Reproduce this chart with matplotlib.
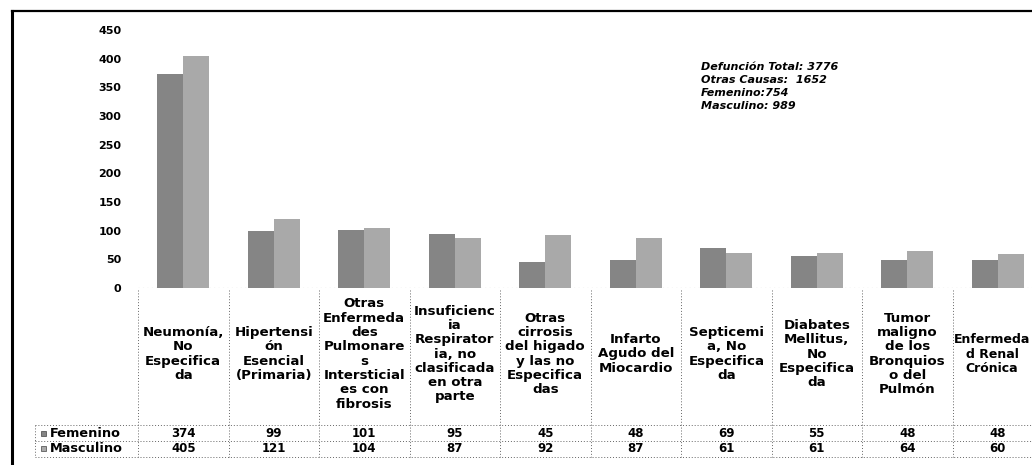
import matplotlib
matplotlib.use("Agg")
import matplotlib.pyplot as plt
import matplotlib.transforms as mtransforms
from matplotlib.lines import Line2D
from matplotlib.patches import Rectangle
import numpy as np

categories = [
    "Neumonía,\nNo\nEspecifica\nda",
    "Hipertensi\nón\nEsencial\n(Primaria)",
    "Otras\nEnfermeda\ndes\nPulmonare\ns\nIntersticial\nes con\nfibrosis",
    "Insuficienc\nia\nRespirator\nia, no\nclasificada\nen otra\nparte",
    "Otras\ncirrosis\ndel higado\ny las no\nEspecifica\ndas",
    "Infarto\nAgudo del\nMiocardio",
    "Septicemi\na, No\nEspecifica\nda",
    "Diabates\nMellitus,\nNo\nEspecifica\nda",
    "Tumor\nmaligno\nde los\nBronquios\no del\nPulmón",
    "Enfermeda\nd Renal\nCrónica",
]
femenino = [374, 99, 101, 95, 45, 48, 69, 55, 48, 48]
masculino = [405, 121, 104, 87, 92, 87, 61, 61, 64, 60]
series_names = ["Femenino", "Masculino"]
yticks = [0, 50, 100, 150, 200, 250, 300, 350, 400, 450]
note_lines = ["Defunción Total: 3776", "Otras Causas:  1652",
              "Femenino:754", "Masculino: 989"]

W, H = 1032, 465
def fx(px): return px / W
def fy(py): return 1 - py / H

plt.rcParams['font.family'] = ['DejaVu Sans']
fig = plt.figure(figsize=(W / 100, H / 100), dpi=100)
fig.patch.set_facecolor('white')

col_left, col_w = 138, 90.5
n = len(categories)
ax_left = fx(col_left)
ax_w = (col_w * n) / W
ax_bottom = fy(288)
ax_top = fy(30)
ax = fig.add_axes([ax_left, ax_bottom, ax_w, ax_top - ax_bottom])

c_fem = '#858585'
c_mas = '#a9a9a9'
x = np.arange(n)
bw = 0.29
ax.bar(x - bw / 2, femenino, bw, color=c_fem, edgecolor='none', zorder=2)
ax.bar(x + bw / 2, masculino, bw, color=c_mas, edgecolor='none', zorder=2)
ax.set_xlim(-0.5, n - 0.5)
ax.set_ylim(0, 450)
ax.set_yticks(yticks)
ax.set_yticklabels([str(v) for v in yticks], fontsize=8, fontweight='bold')
ax.tick_params(axis='y', length=0, pad=12)
ax.set_xticks([])
for s in ax.spines.values():
    s.set_visible(False)
ax.axhline(0, color='#777777', lw=0.8, ls=(0, (1, 3)), zorder=1)

tr = mtransforms.blended_transform_factory(ax.transData, fig.transFigure)

# category labels
for i, lab in enumerate(categories):
    if i == n - 1:
        # last column is partly outside the figure: keep its label inside
        fig.text(fx(992), fy(354), lab, ha='center', va='center',
                 fontsize=9.0, fontweight='bold', linespacing=1.13)
    else:
        ax.text(i, fy(354), lab, transform=tr, ha='center', va='center',
                fontsize=9.6, fontweight='bold', linespacing=1.13, clip_on=False)

# values
for i in range(n):
    ax.text(i, fy(433), str(femenino[i]), transform=tr, ha='center', va='center',
            fontsize=8.5, fontweight='bold')
    ax.text(i, fy(448), str(masculino[i]), transform=tr, ha='center', va='center',
            fontsize=8.5, fontweight='bold')

# row labels with legend keys
for yy, name, col in [(433, series_names[0], c_fem), (448, series_names[1], c_mas)]:
    fig.patches.append(Rectangle((fx(41), fy(yy) - 2.5 / H), 5 / W, 5 / H,
                                 transform=fig.transFigure, facecolor=col,
                                 edgecolor='#444444', lw=0.5))
    fig.text(fx(50), fy(yy), name, ha='left', va='center',
             fontsize=9.3, fontweight='bold')

# table grid (dotted)
grid_kw = dict(color='#666666', lw=0.7, ls=(0, (1, 2)))
for i in range(n + 1):
    xb = i - 0.5
    fig.add_artist(Line2D([xb, xb], [fy(290), fy(457)], transform=tr, **grid_kw))
for yy in [425, 441, 457]:
    fig.add_artist(Line2D([fx(35), fx(col_left + col_w * n)], [fy(yy), fy(yy)],
                          transform=fig.transFigure, **grid_kw))
fig.add_artist(Line2D([fx(35), fx(35)], [fy(425), fy(457)],
                      transform=fig.transFigure, **grid_kw))

# outer frame
fig.add_artist(Line2D([fx(12), fx(12)], [fy(11), fy(465)], transform=fig.transFigure,
                      color='black', lw=2.2))
fig.add_artist(Line2D([fx(12), fx(1032)], [fy(11), fy(11)], transform=fig.transFigure,
                      color='black', lw=1.6))

# note
for k, line in enumerate(note_lines):
    fig.text(fx(701), fy(67 + 13 * k), line, ha='left', va='center',
             fontsize=8, fontweight='bold', fontstyle='italic')

fig.savefig('out.png', dpi=100, facecolor='white')
